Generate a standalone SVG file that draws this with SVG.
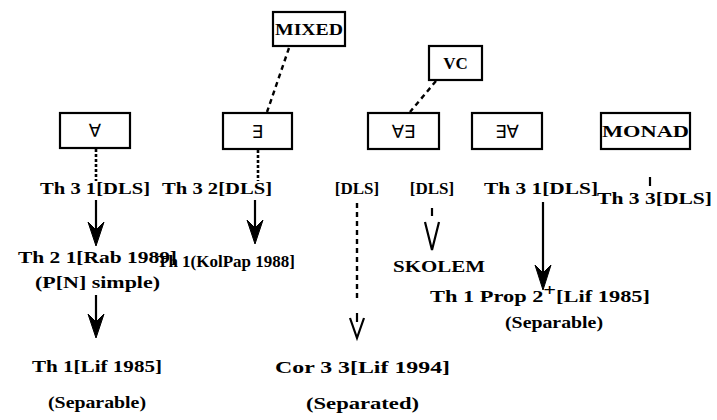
<svg xmlns="http://www.w3.org/2000/svg" width="717" height="420" viewBox="0 0 717 420">
<style>
.box{fill:#fff;stroke:#000;stroke-width:2.2}
.t{font-family:"Liberation Serif","DejaVu Serif",serif;font-weight:bold;font-size:17px;fill:#000}
.s{font-family:"DejaVu Sans","Noto Sans",sans-serif;font-size:18px;fill:#000}
.dash{stroke:#000;stroke-width:2.4;fill:none;stroke-dasharray:5 4}
.dot{stroke:#000;stroke-width:2.6;fill:none;stroke-dasharray:3 2}
.solid{stroke:#000;stroke-width:2.2;fill:none}
.head{fill:#000;stroke:#000;stroke-width:1}
.open{stroke:#000;stroke-width:2.2;fill:none}
</style>
<rect width="717" height="420" fill="#fff"/>
<g id="connectors">
<line class="dash" x1="289" y1="48" x2="267" y2="112"/>
<line class="dash" x1="436" y1="81" x2="410" y2="112"/>
<line class="dot" x1="96" y1="149" x2="96" y2="181"/>
<line class="dot" x1="258" y1="150" x2="258" y2="181"/>
<line class="solid" x1="96" y1="200" x2="96" y2="230"/>
<path class="head" d="M88,222 L96,246 L104,222 L96,230 Z"/>
<line class="solid" x1="96" y1="295" x2="96" y2="322"/>
<path class="head" d="M88,314 L96,338 L104,314 L96,322 Z"/>
<line class="solid" x1="255" y1="200" x2="255" y2="228"/>
<path class="head" d="M247,220 L255,244 L263,220 L255,228 Z"/>
<line class="dash" x1="357" y1="203" x2="357" y2="300"/>
<line class="solid" x1="357" y1="313" x2="357" y2="322"/>
<path class="open" d="M350,318 L357,338 L364,318"/>
<line class="solid" x1="432" y1="208" x2="432" y2="216"/>
<path class="open" d="M425,222 L432,250 L439,222"/>
<line class="solid" x1="543" y1="202" x2="543" y2="275"/>
<path class="head" d="M535,265 L543,290 L551,265 L543,273 Z"/>
<line class="solid" x1="650" y1="177" x2="650" y2="186"/>
</g>
<g id="MIXED"><rect class="box" x="273" y="12" width="72" height="34"/><text class="t" x="309" y="35" text-anchor="middle" textLength="68" lengthAdjust="spacingAndGlyphs">MIXED</text></g>
<g id="VC"><rect class="box" x="429" y="46" width="53" height="34"/><text class="t" x="455.5" y="69" text-anchor="middle">VC</text></g>
<g id="forall"><rect class="box" x="60" y="113" width="70" height="35"/><text class="s" x="95" y="137" text-anchor="middle">∀</text></g>
<g id="exists"><rect class="box" x="223" y="113" width="69" height="36"/><text class="s" x="257.5" y="138" text-anchor="middle">∃</text></g>
<g id="forallexists"><rect class="box" x="368" y="113" width="71" height="36"/><text class="s" x="403.5" y="138" text-anchor="middle">∀∃</text></g>
<g id="existsforall"><rect class="box" x="472" y="113" width="70" height="36"/><text class="s" x="507" y="138" text-anchor="middle">∃∀</text></g>
<g id="MONAD"><rect class="box" x="601" y="113" width="89" height="36"/><text class="t" x="645.5" y="137" text-anchor="middle" textLength="87" lengthAdjust="spacingAndGlyphs">MONAD</text></g>
<g id="texts">
<text class="t" x="40" y="194" textLength="110" lengthAdjust="spacingAndGlyphs">Th 3 1[DLS]</text>
<text class="t" x="162" y="194" textLength="110" lengthAdjust="spacingAndGlyphs">Th 3 2[DLS]</text>
<text class="t" x="357" y="194" text-anchor="middle">[DLS]</text>
<text class="t" x="432" y="194" text-anchor="middle">[DLS]</text>
<text class="t" x="484" y="194" textLength="114" lengthAdjust="spacingAndGlyphs">Th 3 1[DLS]</text>
<text class="t" x="597" y="204" textLength="115" lengthAdjust="spacingAndGlyphs">Th 3 3[DLS]</text>
<text class="t" x="18" y="263" textLength="159" lengthAdjust="spacingAndGlyphs">Th 2 1[Rab 1989]</text>
<text class="t" x="35" y="288" textLength="125" lengthAdjust="spacingAndGlyphs">(P[N] simple)</text>
<text class="t" x="32" y="372" textLength="130" lengthAdjust="spacingAndGlyphs">Th 1[Lif 1985]</text>
<text class="t" x="48" y="408" textLength="98" lengthAdjust="spacingAndGlyphs">(Separable)</text>
<text class="t" x="226" y="267" text-anchor="middle">Th 1(KolPap 1988]</text>
<text class="t" x="393" y="272" textLength="92" lengthAdjust="spacingAndGlyphs">SKOLEM</text>
<text class="t" x="430" y="302" textLength="220" lengthAdjust="spacingAndGlyphs">Th 1 Prop 2<tspan dy="-6">+</tspan><tspan dy="6">[Lif 1985]</tspan></text>
<text class="t" x="505" y="328" textLength="98" lengthAdjust="spacingAndGlyphs">(Separable)</text>
<text class="t" x="275" y="373" textLength="175" lengthAdjust="spacingAndGlyphs">Cor 3 3[Lif 1994]</text>
<text class="t" x="306" y="409" textLength="113" lengthAdjust="spacingAndGlyphs">(Separated)</text>
</g>
</svg>
